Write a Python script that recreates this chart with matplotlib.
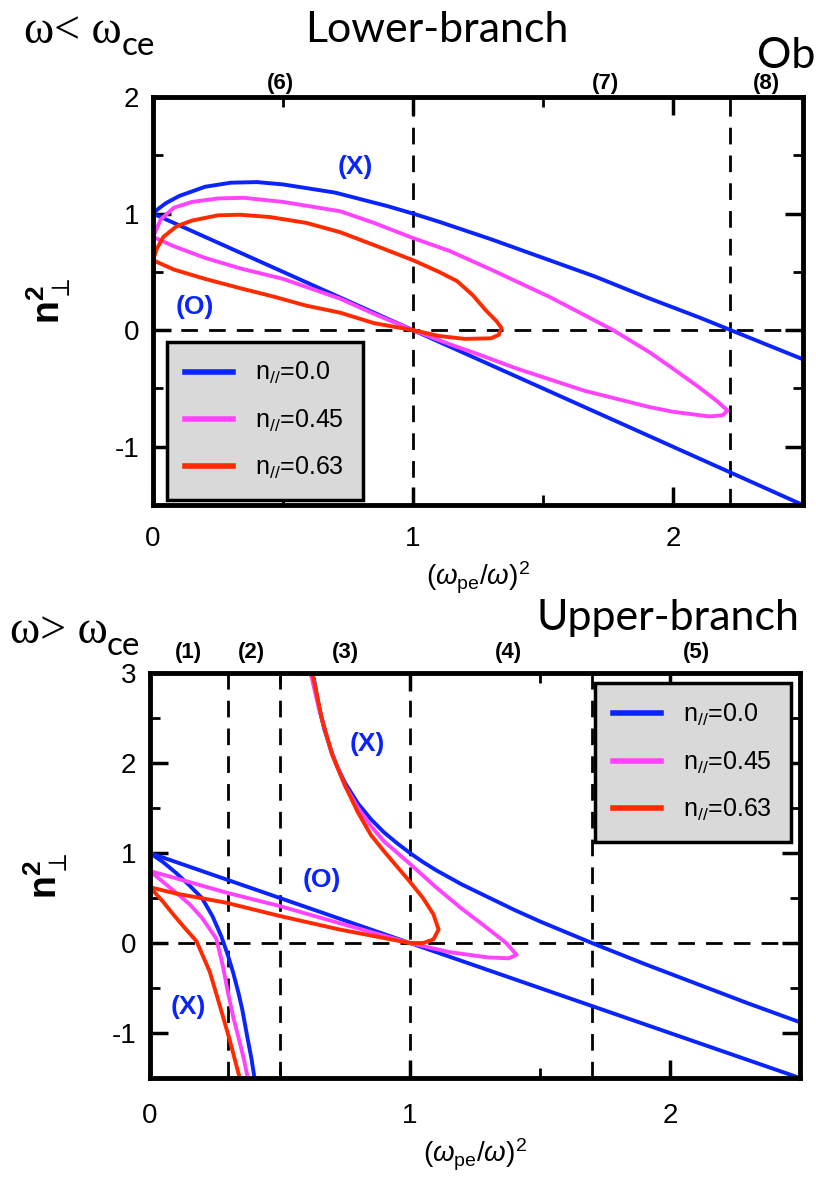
import matplotlib
matplotlib.use("Agg")
import matplotlib.pyplot as plt
from matplotlib.ticker import MultipleLocator

plt.rcParams['font.family'] = ['Liberation Sans', 'DejaVu Sans']
plt.rcParams['mathtext.fontset'] = 'custom'
plt.rcParams['mathtext.rm'] = 'Liberation Sans'
plt.rcParams['mathtext.it'] = 'Liberation Sans:italic'
plt.rcParams['mathtext.bf'] = 'Liberation Sans:bold'
plt.rcParams['axes.unicode_minus'] = False

BLUE = '#0a24ff'
PINK = '#ff44ff'
RED = '#ff2a00'

# ---- lower branch (omega < omega_ce) ----
low_xmode_x = [0, 0.02, 0.05, 0.1, 0.2, 0.3, 0.4, 0.5, 0.7, 0.9, 1.0, 1.1, 1.3, 1.5, 1.7, 1.9, 2.1, 2.3, 2.5]
low_xmode_n = [1.0, 1.04, 1.09, 1.15, 1.23, 1.265, 1.27, 1.25, 1.18, 1.065, 1.0, 0.93, 0.78, 0.62, 0.46, 0.28, 0.11, -0.07, -0.25]
low_omode_x = [0, 2.5]
low_omode_n = [1.0, -1.5]

low_p45_x = [0, 0.03, 0.08, 0.15, 0.25, 0.35, 0.5, 0.72, 0.85, 1.0, 1.14, 1.3, 1.53, 1.65, 1.77, 1.91, 2.0, 2.1, 2.17, 2.21,
             2.19, 2.14, 2.0, 1.91, 1.66, 1.4, 1.23, 1.14, 1.0, 0.85, 0.72, 0.5, 0.335, 0.2, 0.08, 0]
low_p45_n = [0.8, 0.95, 1.05, 1.1, 1.13, 1.135, 1.1, 1.02, 0.92, 0.79, 0.68, 0.52, 0.28, 0.14, 0.0, -0.19, -0.33, -0.49, -0.61, -0.69,
             -0.73, -0.74, -0.7, -0.66, -0.52, -0.33, -0.19, -0.12, 0.0, 0.14, 0.27, 0.44, 0.53, 0.62, 0.72, 0.8]

low_p63_x = [0, 0.015, 0.04, 0.09, 0.15, 0.25, 0.335, 0.45, 0.59, 0.72, 0.85, 1.0, 1.1, 1.17, 1.23, 1.28, 1.32, 1.34, 1.33, 1.3,
             1.2, 1.1, 1.0, 0.85, 0.72, 0.59, 0.46, 0.335, 0.2, 0.08, 0]
low_p63_n = [0.6, 0.7, 0.8, 0.89, 0.94, 0.985, 0.99, 0.97, 0.92, 0.84, 0.73, 0.6, 0.5, 0.42, 0.3, 0.17, 0.08, 0.02, -0.04, -0.07,
             -0.075, -0.05, 0.0, 0.06, 0.15, 0.21, 0.29, 0.36, 0.44, 0.52, 0.6]

low_cutoffs = [1.0, 2.22]
low_regions = ['(6)', '(7)', '(8)']
low_region_x = [0.49, 1.74, 2.36]

# ---- upper branch (omega > omega_ce) ----
up_xlow_x = [0, 0.05, 0.1, 0.15, 0.2, 0.24, 0.275, 0.3, 0.32, 0.34, 0.355, 0.376, 0.39, 0.402]
up_xlow_n = [1.0, 0.9, 0.78, 0.645, 0.5, 0.3, 0.07, -0.14, -0.33, -0.55, -0.74, -1.07, -1.28, -1.5]
up_xhigh_x = [0.613, 0.63, 0.65, 0.67, 0.7, 0.72, 0.75, 0.8, 0.85, 0.9, 0.95, 1.0, 1.05, 1.1, 1.2, 1.3, 1.4, 1.5, 1.6, 1.7,
              1.9, 2.1, 2.3, 2.5]
up_xhigh_n = [3.0, 2.94, 2.63, 2.38, 2.11, 1.96, 1.78, 1.55, 1.375, 1.23, 1.11, 1.0, 0.9, 0.81, 0.65, 0.51, 0.37, 0.24, 0.12,
              0.0, -0.23, -0.45, -0.67, -0.88]
up_omode_x = [0, 2.5]
up_omode_n = [1.0, -1.5]

up_p45_low_x = [0, 0.05, 0.1, 0.153, 0.2, 0.255, 0.28, 0.3, 0.32, 0.345, 0.362, 0.376]
up_p45_low_n = [0.8, 0.68, 0.56, 0.43, 0.28, 0.05, -0.25, -0.55, -0.82, -1.1, -1.3, -1.5]
up_p45_loop_x = [0, 0.1, 0.294, 0.5, 0.73, 1.0, 1.15, 1.3, 1.38, 1.41, 1.37, 1.3, 1.2, 1.1, 1.0, 0.9, 0.85, 0.8, 0.75,
                 0.7, 0.65, 0.618]
up_p45_loop_n = [0.8, 0.72, 0.56, 0.41, 0.22, 0.0, -0.1, -0.16, -0.17, -0.13, 0.0, 0.16, 0.38, 0.62, 0.88, 1.13, 1.3,
                 1.5, 1.75, 2.1, 2.6, 3.0]

up_p63_low_x = [0, 0.05, 0.089, 0.13, 0.179, 0.23, 0.268, 0.306, 0.345]
up_p63_low_n = [0.62, 0.46, 0.32, 0.18, 0.02, -0.32, -0.69, -1.07, -1.5]
up_p63_loop_x = [0, 0.1, 0.29, 0.5, 0.73, 1.0, 1.05, 1.09, 1.11, 1.09, 1.05, 1.0, 0.95, 0.9, 0.85, 0.8, 0.75, 0.7,
                 0.66, 0.625]
up_p63_loop_n = [0.62, 0.55, 0.45, 0.3, 0.15, 0.0, 0.0, 0.04, 0.15, 0.32, 0.5, 0.68, 0.85, 1.02, 1.2, 1.45, 1.75, 2.1,
                 2.5, 3.0]

up_cutoffs = [0.3, 0.5, 1.0, 1.7]
up_regions = ['(1)', '(2)', '(3)', '(4)', '(5)']
up_region_x = [0.146, 0.39, 0.75, 1.38, 2.1]

legend_labels = [r'n$_{\mathit{//}}$=0.0', r'n$_{\mathit{//}}$=0.45', r'n$_{\mathit{//}}$=0.63']

fig = plt.figure(figsize=(8.16, 11.9), dpi=100)
ax1 = fig.add_axes([0.1875, 0.5756, 0.7966, 0.3429])
ax2 = fig.add_axes([0.1838, 0.0941, 0.7966, 0.3403])


def style_axes(ax, ylim, xpad):
    ax.set_xlim(0, 2.5)
    ax.set_ylim(*ylim)
    ax.xaxis.set_major_locator(MultipleLocator(1))
    ax.xaxis.set_minor_locator(MultipleLocator(0.5))
    ax.yaxis.set_major_locator(MultipleLocator(1))
    ax.yaxis.set_minor_locator(MultipleLocator(0.5))
    ax.tick_params(which='both', direction='in', top=True, right=True)
    ax.tick_params(which='major', length=13, width=2.5, labelsize=20)
    ax.tick_params(which='minor', length=7, width=2)
    ax.tick_params(axis='x', pad=xpad)
    ax.tick_params(axis='y', pad=10)
    for sp in ax.spines.values():
        sp.set_linewidth(3.5)
    ax.set_xlabel(r'$(\omega_{\mathrm{pe}}/\omega)^{2}$', fontsize=20, labelpad=6)
    ax.set_ylabel(r'$\mathbf{n}_{\perp}^{\mathbf{2}}$', fontsize=27, labelpad=30)
    ax.axhline(0, color='k', lw=2, ls=(0, (6, 4)), zorder=1)


def style_legend(leg):
    frame = leg.get_frame()
    frame.set_facecolor('#d9d9d9')
    frame.set_edgecolor('k')
    frame.set_linewidth(2.5)
    for h in leg.get_lines():
        h.set_linewidth(4)
    leg.set_zorder(5)


dash = dict(color='k', lw=2, ls=(0, (6, 4)), zorder=1)
lw = 2.8
leg_kw = dict(fontsize=18, handlelength=1.9, handletextpad=0.9, labelspacing=0.85,
              borderpad=0.75, borderaxespad=0, fancybox=False, framealpha=1)

# lower branch panel
style_axes(ax1, (-1.5, 2), 15)
for xc in low_cutoffs:
    ax1.axvline(xc, **dash)
ax1.plot(low_xmode_x, low_xmode_n, color=BLUE, lw=lw, label=legend_labels[0])
ax1.plot(low_omode_x, low_omode_n, color=BLUE, lw=lw)
ax1.plot(low_p45_x, low_p45_n, color=PINK, lw=lw, label=legend_labels[1])
ax1.plot(low_p63_x, low_p63_n, color=RED, lw=lw, label=legend_labels[2])
ax1.text(0.78, 1.4, '(X)', color=BLUE, fontsize=19, fontweight='bold', ha='center', va='center')
ax1.text(0.16, 0.2, '(O)', color=BLUE, fontsize=19, fontweight='bold', ha='center', va='center')
for lab, xr in zip(low_regions, low_region_x):
    ax1.annotate(lab, (xr, 1), xycoords=('data', 'axes fraction'), xytext=(0, 10),
                 textcoords='offset points', fontsize=16, fontweight='bold', ha='center', va='center')
leg1 = ax1.legend(loc='lower left', bbox_to_anchor=(0.021, 0.012), **leg_kw)
style_legend(leg1)

# upper branch panel
style_axes(ax2, (-1.5, 3), 18)
for xc in up_cutoffs:
    ax2.axvline(xc, **dash)
ax2.plot(up_xlow_x, up_xlow_n, color=BLUE, lw=lw, label=legend_labels[0])
ax2.plot(up_xhigh_x, up_xhigh_n, color=BLUE, lw=lw)
ax2.plot(up_omode_x, up_omode_n, color=BLUE, lw=lw)
ax2.plot(up_p45_low_x, up_p45_low_n, color=PINK, lw=lw, label=legend_labels[1])
ax2.plot(up_p45_loop_x, up_p45_loop_n, color=PINK, lw=lw)
ax2.plot(up_p63_low_x, up_p63_low_n, color=RED, lw=lw, label=legend_labels[2])
ax2.plot(up_p63_loop_x, up_p63_loop_n, color=RED, lw=lw)
ax2.text(0.835, 2.21, '(X)', color=BLUE, fontsize=19, fontweight='bold', ha='center', va='center')
ax2.text(0.66, 0.70, '(O)', color=BLUE, fontsize=19, fontweight='bold', ha='center', va='center')
ax2.text(0.146, -0.71, '(X)', color=BLUE, fontsize=19, fontweight='bold', ha='center', va='center')
for lab, xr in zip(up_regions, up_region_x):
    ax2.annotate(lab, (xr, 1), xycoords=('data', 'axes fraction'), xytext=(0, 15),
                 textcoords='offset points', fontsize=16, fontweight='bold', ha='center', va='center')
leg2 = ax2.legend(loc='upper right', bbox_to_anchor=(0.986, 0.975), **leg_kw)
style_legend(leg2)

# panel headings
fig.text(0.03, 0.973, 'ω< ω', fontsize=33, family='Liberation Serif', va='center')
fig.text(0.149, 0.961, 'ce', fontsize=24, family='Lato', va='center')
fig.text(0.535, 0.975, 'Lower-branch', fontsize=31, family='Lato', ha='center', va='center')
fig.text(0.928, 0.953, 'Ob', fontsize=31, family='Lato', ha='left', va='center')
fig.text(0.012, 0.469, 'ω> ω', fontsize=33, family='Liberation Serif', va='center')
fig.text(0.131, 0.457, 'ce', fontsize=24, family='Lato', va='center')
fig.text(0.658, 0.481, 'Upper-branch', fontsize=31, family='Lato', ha='left', va='center')

fig.savefig('out.png', dpi=100)
